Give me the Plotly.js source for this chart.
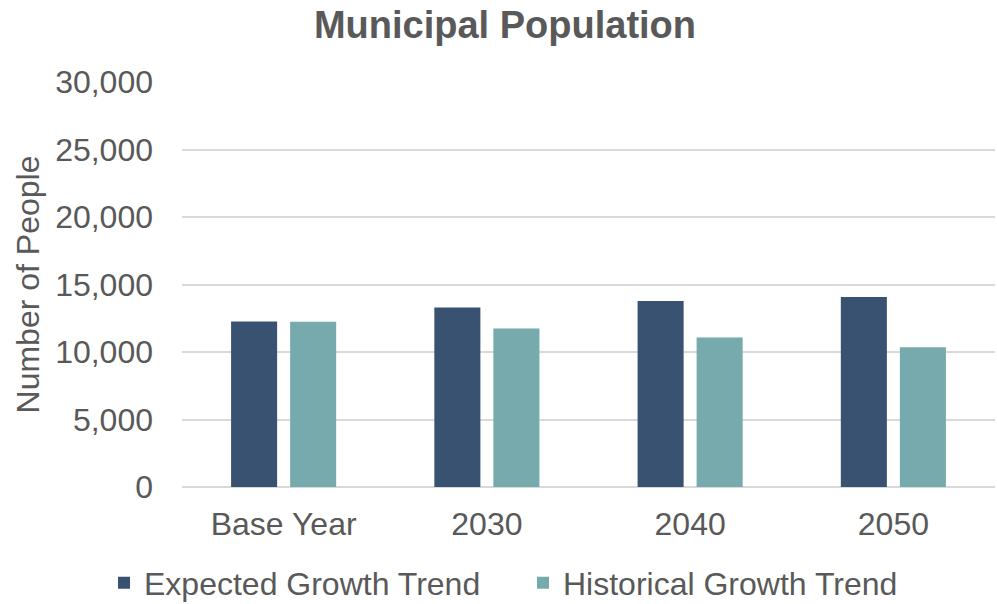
<!DOCTYPE html>
<html>
<head>
<meta charset="utf-8">
<script src="https://cdn.plot.ly/plotly-3.0.1.min.js"></script>
<style>html,body{margin:0;padding:0;background:#fff;}#chart{width:997px;height:604px;}</style>
</head>
<body>
<div id="chart"></div>
<script>
const categories = ["Base Year", "2030", "2040", "2050"];
const expectedGrowth = [12260, 13300, 13770, 14070];
const historicalGrowth = [12250, 11740, 11070, 10350];
const seriesNames = ["Expected Growth Trend", "Historical Growth Trend"];
const yTickVals = [0, 5000, 10000, 15000, 20000, 25000, 30000];
const yTickText = ["0", "5,000", "10,000", "15,000", "20,000", "25,000", "30,000"];

const font = "Arial, 'Liberation Sans', sans-serif";
const txt = "#595959";

const data = [
  {type: "bar", name: seriesNames[0], x: categories, y: expectedGrowth,
   marker: {color: "#3A5272"}, hoverinfo: "skip"},
  {type: "bar", name: seriesNames[1], x: categories, y: historicalGrowth,
   marker: {color: "#76AAAD"}, hoverinfo: "skip"}
];

const layout = {
  width: 997, height: 604,
  paper_bgcolor: "#fff", plot_bgcolor: "#fff",
  margin: {l: 182, r: 2, t: 82, b: 117, autoexpand: false},
  font: {family: font, color: txt, size: 32},
  title: {text: "<b>Municipal Population</b>", font: {family: font, size: 38, color: txt},
          x: 505/997, xanchor: "center", xref: "container", y: 1 - 25/604, yanchor: "middle", yref: "container"},
  barmode: "group", bargap: 0.419, bargroupgap: 0.22,
  xaxis: {type: "category", showgrid: false, zeroline: false, showline: false, ticks: "",
          tickfont: {family: font, size: 32, color: txt}, ticklabelstandoff: 15},
  yaxis: {range: [0, 30000], tickvals: yTickVals, ticktext: yTickText,
          showgrid: true, gridcolor: "#d9d9d9", gridwidth: 2,
          zeroline: true, zerolinecolor: "#d9d9d9", zerolinewidth: 2,
          showline: false, ticks: "", ticklabelstandoff: 28,
          tickfont: {family: font, size: 32, color: txt},
          title: {text: "Number of People", font: {family: font, size: 32, color: txt}, standoff: 5}},
  showlegend: true,
  legend: {orientation: "h", x: (104 - 182) / 813, xref: "paper", xanchor: "left",
           y: (487 - 583) / 405, yref: "paper", yanchor: "middle",
           font: {family: font, size: 32, color: txt}, traceorder: "normal",
           itemwidth: 30, entrywidth: 374, entrywidthmode: "pixels", bgcolor: "rgba(0,0,0,0)"}
};

Plotly.newPlot("chart", data, layout, {staticPlot: true, displayModeBar: false});
</script>
</body>
</html>
